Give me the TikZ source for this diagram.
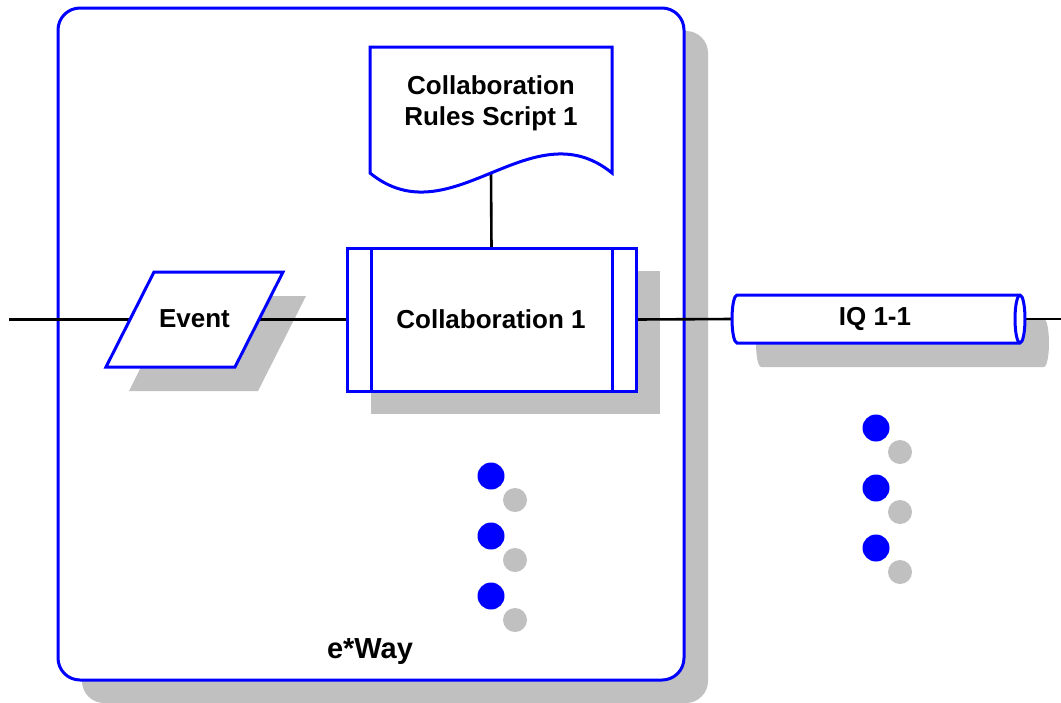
\documentclass[tikz,border=0pt]{standalone}
\usepackage{fontspec}
\setmainfont{Liberation Sans}
\definecolor{shadowgray}{RGB}{192,192,192}
\definecolor{pureblue}{RGB}{0,0,255}
\tikzset{
  blueshape/.style={draw=pureblue, line width=3pt, fill=white, line join=miter},
  shadowfill/.style={fill=shadowgray, draw=none},
  conn/.style={draw=black, line width=2.6pt},
  holder/.style={inner sep=0pt, outer sep=0pt, draw=none},
  lbl/.style={font=\bfseries\fontsize{26}{31}\selectfont, align=center, inner sep=0pt},
  bluedot/.style={fill=pureblue, draw=none},
  graydot/.style={fill=shadowgray, draw=none},
}
\begin{document}
\begin{tikzpicture}[x=1pt,y=-1pt]
\useasboundingbox (0,0) rectangle (1061,702);

% e*Way container
\node[holder, minimum width=626, minimum height=672, anchor=north west] (eway) at (58,8) {};
\fill[shadowgray, rounded corners=22pt] ([shift={(24,23)}]eway.north west) rectangle ([shift={(24,23)}]eway.south east);
\draw[blueshape, rounded corners=22pt] (eway.north west) rectangle (eway.south east);
\node[font=\bfseries\fontsize{29}{33}\selectfont, anchor=base, inner sep=0pt] (ewaylbl) at (370,658) {e*Way};

% Event parallelogram
\node[holder, minimum width=129, minimum height=95] (event) at (194.5,319.5) {};
\fill[shadowfill] ([shift={(47,24)}]event.north west) -- ([shift={(47,24)}]event.north east)
  -- ([shift={(-1,24)}]event.south east) -- ([shift={(-1,24)}]event.south west) -- cycle;

% Collaboration
\node[holder, minimum width=289, minimum height=143] (collab) at (491.5,319.5) {};
\fill[shadowfill] ([shift={(24,23)}]collab.north west) rectangle ([shift={(24,23)}]collab.south east);

% IQ cylinder shadow
\node[holder, minimum width=293, minimum height=48] (iq) at (878.5,319) {};
\fill[shadowfill] (761,319) -- (1044,319) arc (-90:90:5 and 24) -- (761,367) arc (90:270:5 and 24) -- cycle;

% Document
\node[holder, minimum width=242, minimum height=126, anchor=north] (doc) at (491,47) {};

% connectors
\coordinate (leftend) at (9,319.5);
\coordinate (rightend) at (1061,319);
\draw[conn] (leftend) -- (event.west);
\draw[conn] (event.east) -- (collab.west);
\draw[conn] (collab.east) -- (iq.west);
\draw[conn] (iq.east) -- (rightend);
\draw[conn] (doc.south) -- (collab.north);

% shapes
\draw[blueshape] ([xshift=24]event.north west) -- ([xshift=24]event.north east)
  -- ([xshift=-24]event.south east) -- ([xshift=-24]event.south west) -- cycle;
\node[lbl] (eventlbl) at (194.5,319) {Event};

\draw[blueshape] (collab.north west) rectangle (collab.south east);
\draw[draw=pureblue, line width=3pt] ([xshift=24]collab.north west) -- ([xshift=24]collab.south west);
\draw[draw=pureblue, line width=3pt] ([xshift=-24]collab.north east) -- ([xshift=-24]collab.south east);
\node[lbl] (collablbl) at (491,319) {Collaboration 1};

\draw[blueshape] (737,295) -- (1020,295) arc (-90:90:5 and 24) -- (737,343) arc (90:270:5 and 24) -- cycle;
\draw[draw=pureblue, line width=3pt] (1020,295) arc (270:90:5 and 24);
\node[lbl] (iqlbl) at (875,319) {IQ 1-1};

\draw[blueshape] (doc.south west) -- (doc.north west) -- (doc.north east) -- (doc.south east)
  .. controls (531,107) and (451,239) .. (doc.south west) -- cycle;
\node[lbl] (doclbl) at (491,103) {Collaboration\\Rules Script 1};

% dots
\foreach \i/\y in {0/476,1/536,2/596}{
  \fill[bluedot] (491,\y) circle (13.5) coordinate (lb\i);
  \fill[graydot] (515,\y+24) circle (12) coordinate (lg\i);
}
\foreach \i/\y in {0/428,1/488,2/548}{
  \fill[bluedot] (876,\y) circle (13.5) coordinate (rb\i);
  \fill[graydot] (900,\y+24) circle (12) coordinate (rg\i);
}
\end{tikzpicture}
\end{document}
